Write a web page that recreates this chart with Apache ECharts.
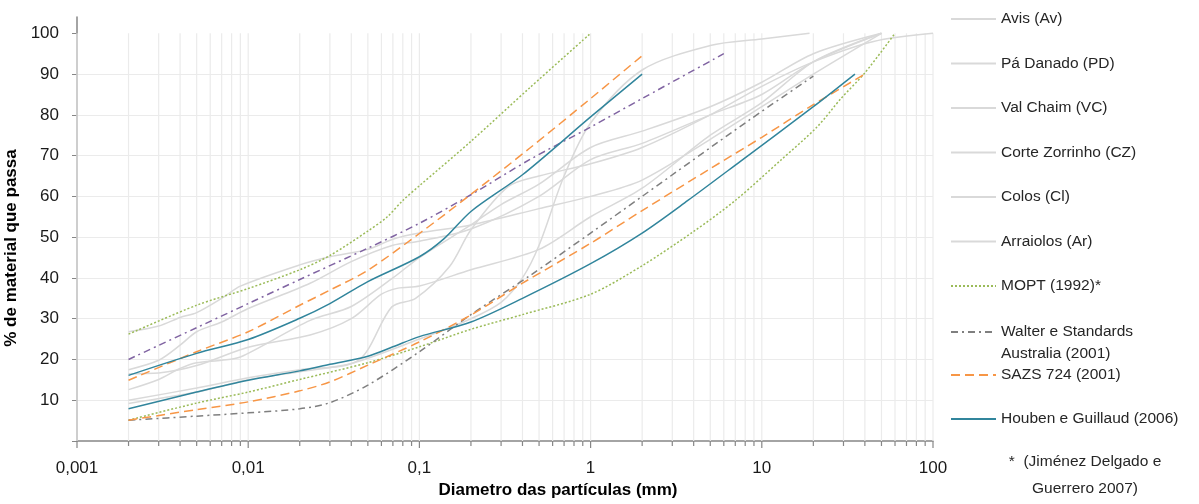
<!DOCTYPE html>
<html>
<head>
<meta charset="utf-8">
<script src="https://cdn.jsdelivr.net/npm/echarts@6/dist/echarts.min.js"></script>
<style>
  html, body { margin: 0; padding: 0; background: #fff; }
  #main { width: 1199px; height: 504px; }
</style>
</head>
<body>
<div id="main"></div>
<script>
// grading curves: [diameter mm, % passing]
var avis = [[0.002,26.8],[0.003,28.2],[0.004,30.3],[0.005,31.5],[0.007,35],[0.009,38],[0.02,43.2],[0.03,45.2],[0.05,47],[0.07,49.5],[0.1,51],[0.2,53],[0.5,57],[1,60],[2,64],[5,74],[10,82],[20,90],[50,100]]
var paDanado = [[0.002,17.5],[0.003,19.8],[0.004,23.5],[0.005,26.8],[0.007,29.2],[0.01,32.5],[0.023,38.7],[0.04,44],[0.07,48],[0.1,49],[0.2,52],[0.5,60],[1,69],[2,73],[5,80],[10,85],[20,93],[50,100]]
var valChaim = [[0.002,12.6],[0.003,15.1],[0.004,17.8],[0.005,19.2],[0.007,19.8],[0.009,20.6],[0.023,29.6],[0.04,33],[0.07,40],[0.1,45],[0.2,53],[0.3,58],[0.5,63],[1,72],[2,76],[5,82],[10,88],[20,95],[50,100]]
var corteZorrinho = [[0.002,16.5],[0.003,16.7],[0.005,18.5],[0.01,23],[0.023,26],[0.04,30],[0.06,36],[0.075,37.5],[0.1,38],[0.2,42],[0.5,47],[1,55],[2,62],[5,75],[10,83],[20,93],[50,100]]
var colos = [[0.002,10],[0.005,13],[0.01,15.5],[0.02,17.5],[0.044,19.8],[0.069,32.9],[0.095,35],[0.15,42.8],[0.2,51.8],[0.33,62.4],[0.5,65],[1,68],[2,72],[5,80],[10,87],[20,93],[45,98],[100,100]]
var arraiolos = [[0.002,9.2],[0.005,12],[0.01,15],[0.02,17],[0.04,19],[0.1,25],[0.2,30],[0.3,34],[0.4,40],[0.5,48],[0.7,65],[1,78],[2,91],[5,97],[10,98.6],[19,100]]

// recommended envelopes (upper / lower)
var moptSup = [[0.002,26.2],[0.005,33.3],[0.01,37.4],[0.02,42],[0.03,45.5],[0.05,51.5],[0.065,55],[0.08,59],[0.1,62.6],[0.2,73.5],[0.44,86.6],[1,100]]
var moptInf = [[0.002,5.1],[0.005,9.3],[0.01,12],[0.02,15.1],[0.05,19.2],[0.1,23.1],[0.2,27.4],[0.4,31],[1,36],[2,43],[4,51.4],[7,59],[13,69],[21,77],[29,84],[40,90.3],[60,100]]
var walterSup = [[0.002,20],[0.005,27.8],[0.01,33.7],[0.02,39.6],[0.05,47.3],[0.1,53.4],[0.2,60.4],[0.44,69],[1,77],[2,84],[6,95]]
var walterInf = [[0.002,5.1],[0.005,6.1],[0.01,6.9],[0.02,7.9],[0.03,9.4],[0.05,13.7],[0.1,21.9],[0.2,31],[0.44,40.5],[1,51],[2,60],[8.5,78.8],[20,89.5]]
var sazsSup = [[0.002,14.9],[0.005,21.9],[0.01,26.8],[0.02,33.3],[0.03,37],[0.05,41.9],[0.1,50.9],[0.2,60.5],[0.44,71.8],[1,84],[2,94.5]]
var sazsInf = [[0.002,5.1],[0.005,7.7],[0.01,9.6],[0.02,12.3],[0.03,14.5],[0.05,18.6],[0.1,24.3],[0.2,30.9],[0.4,38.7],[1,48.5],[2,56.5],[5,66.8],[10,74.5],[20,82.5],[40,90]]
var houbenSup = [[0.002,16.1],[0.005,21.5],[0.01,24.9],[0.02,30.1],[0.03,33.7],[0.05,39.1],[0.1,45.2],[0.14,49.7],[0.2,56.3],[0.4,65.3],[1,79.5],[2,90]]
var houbenInf = [[0.002,7.9],[0.005,12],[0.01,14.9],[0.02,17.2],[0.03,18.8],[0.05,20.8],[0.07,23.1],[0.1,25.6],[0.2,29.2],[0.4,35],[1,43.5],[2,51],[3.7,59],[7.5,68.6],[20,82],[35,90]]

var yTicks = [10,20,30,40,50,60,70,80,90,100]

// log grid positions 1..9 x 10^k
var gridMm = []
for (var e = -3; e <= 2; e++) {
    for (var m = 1; m <= 9; m++) {
        if (e === 2 && m > 1) break
        gridMm.push([m * Math.pow(10, e), 0, m === 1 ? 1 : 0])
    }
}

var FONT = "'Liberation Sans', Arial, sans-serif"
var GREY = '#d9d9d9'

var myChart = echarts.init(document.getElementById('main'))

function soil(name, data) {
    return {
        type: 'line', name: name, data: data, symbol: 'none', smooth: 0.3,
        lineStyle: { color: GREY, width: 1.5 }, itemStyle: { color: GREY }, z: 2
    }
}
function env(name, data, color, type, width) {
    return {
        type: 'line', name: name, data: data, symbol: 'none', smooth: 0.3,
        lineStyle: { color: color, width: width || 1.5, type: type }, itemStyle: { color: color }, z: 3
    }
}

var legendText = { fontFamily: FONT, fontSize: 15.5, color: '#262626', lineHeight: 22 }
var legendBase = {
    orient: 'vertical', left: 950, padding: 0, itemWidth: 45, itemHeight: 14,
    selectedMode: false, textStyle: legendText, itemStyle: { opacity: 0 }
}

var option = {
    animation: false,
    backgroundColor: '#ffffff',
    grid: { left: 77, right: 266, top: 17, bottom: 63, outerBoundsMode: 'none', containLabel: false },
    legend: [
        Object.assign({}, legendBase, {
            top: 8, itemGap: 22.5,
            data: ['Avis (Av)', 'Pá Danado (PD)', 'Val Chaim (VC)', 'Corte Zorrinho (CZ)', 'Colos (Cl)', 'Arraiolos (Ar)', 'MOPT (1992)*']
        }),
        Object.assign({}, legendBase, {
            top: 299,
            formatter: function () { return '\u00a0\nWalter e Standards\nAustralia (2001)' },
            data: ['Walter e Standards Australia (2001)']
        }),
        Object.assign({}, legendBase, {
            top: 364, itemGap: 22,
            data: ['SAZS 724 (2001)', 'Houben e Guillaud (2006)']
        })
    ],
    graphic: [{
        type: 'text', x: 1085, y: 448,
        style: {
            text: '*  (Jiménez Delgado e\nGuerrero 2007)', align: 'center', verticalAlign: 'top',
            font: '15.5px ' + FONT, fill: '#262626', lineHeight: 27
        }
    }],
    xAxis: {
        type: 'log', logBase: 10, min: 0.001, max: 100,
        name: 'Diametro das partículas (mm)', nameLocation: 'middle', nameGap: 41,
        nameTextStyle: { fontFamily: FONT, fontSize: 17, fontWeight: 'bold', color: '#000', padding: [0, 0, 0, 106] },
        axisLine: { lineStyle: { color: '#868686', width: 1.5 } },
        axisTick: { show: false },
        splitLine: { show: false },
        minorTick: { show: false },
        axisLabel: {
            margin: 19, fontFamily: FONT, fontSize: 17, color: '#1a1a1a',
            formatter: function (v) {
                var k = Math.round(Math.log10(v))
                if (k < 0) return '0,' + '0'.repeat(-k - 1) + '1'
                return String(Math.pow(10, k))
            }
        }
    },
    yAxis: {
        type: 'value', min: 0, max: 104, interval: 10,
        name: '% de material que passa', nameLocation: 'middle', nameGap: 52, nameRotate: 90,
        nameTextStyle: { fontFamily: FONT, fontSize: 17, fontWeight: 'bold', color: '#000', padding: [0, 38, 0, 0] },
        axisLine: { show: true, lineStyle: { color: '#868686', width: 1.5 } },
        axisTick: { show: true, length: 5, lineStyle: { color: '#868686' }, customValues: [0].concat(yTicks) },
        splitLine: { show: true, showMaxLine: false, showMinLine: false, lineStyle: { color: '#ebebeb', width: 1.2 } },
        axisLabel: {
            margin: 18, fontFamily: FONT, fontSize: 17, color: '#1a1a1a', customValues: yTicks,
            formatter: function (v) { return yTicks.indexOf(v) >= 0 ? String(v) : '' }
        }
    },
    series: [
        {
            type: 'custom', name: 'grid', data: gridMm, silent: true, clip: false, z: 1,
            encode: { x: 0, y: 1 },
            renderItem: function (params, api) {
                var v = api.value(0)
                var top = api.coord([v, 100])
                var bot = api.coord([v, 0])
                var len = api.value(2) ? 7 : 5
                return {
                    type: 'group', children: [
                        { type: 'line', shape: { x1: top[0], y1: top[1], x2: bot[0], y2: bot[1] }, style: { stroke: '#ebebeb', lineWidth: 1.2 } },
                        { type: 'line', shape: { x1: bot[0], y1: bot[1], x2: bot[0], y2: bot[1] + len }, style: { stroke: '#868686', lineWidth: 1.2 } }
                    ]
                }
            }
        },
        soil('Avis (Av)', avis),
        soil('Pá Danado (PD)', paDanado),
        soil('Val Chaim (VC)', valChaim),
        soil('Corte Zorrinho (CZ)', corteZorrinho),
        soil('Colos (Cl)', colos),
        soil('Arraiolos (Ar)', arraiolos),
        env('MOPT (1992)*', moptSup, '#9bbb59', [2, 2]),
        env('MOPT (1992)*', moptInf, '#9bbb59', [2, 2]),
        env('Walter e Standards Australia (2001)', walterInf, '#7f7f7f', [7, 4, 2, 4]),
        env('Walter e Standards Australia (2001)', walterSup, '#8064a2', [7, 4, 2, 4]),
        env('SAZS 724 (2001)', sazsSup, '#f79646', [9, 5]),
        env('SAZS 724 (2001)', sazsInf, '#f79646', [9, 5]),
        env('Houben e Guillaud (2006)', houbenSup, '#31859c', 'solid'),
        env('Houben e Guillaud (2006)', houbenInf, '#31859c', 'solid')
    ]
}
myChart.setOption(option)
</script>
</body>
</html>
